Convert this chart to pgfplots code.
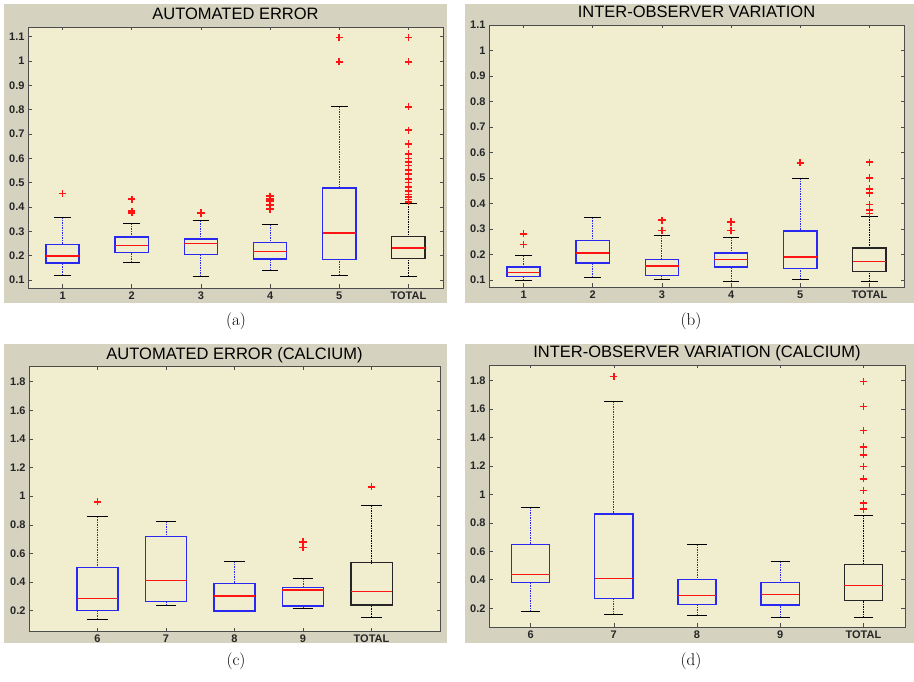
\documentclass[border=0pt]{standalone}
\usepackage{pgfplots}
\pgfplotsset{compat=1.18}
\usepgfplotslibrary{statistics}
\usepackage{fontspec}
\newfontfamily\msans{Liberation Sans}
\definecolor{figbg}{RGB}{213,211,192}
\definecolor{axbg}{RGB}{240,238,207}
\definecolor{mblue}{RGB}{40,40,240}
\definecolor{mred}{RGB}{255,20,20}
\pgfplotsset{
  boxplot/draw/lower whisker/.code={%
    \draw[/pgfplots/boxplot/every whisker/.try]
      (boxplot box cs:\pgfplotsboxplotvalue{lower whisker},0.5) --
      (boxplot box cs:\pgfplotsboxplotvalue{lower quartile},0.5);
    \draw[black, solid, line width=1pt]
      (boxplot whisker cs:\pgfplotsboxplotvalue{lower whisker},0) --
      (boxplot whisker cs:\pgfplotsboxplotvalue{lower whisker},1);
  },
  boxplot/draw/upper whisker/.code={%
    \draw[/pgfplots/boxplot/every whisker/.try]
      (boxplot box cs:\pgfplotsboxplotvalue{upper whisker},0.5) --
      (boxplot box cs:\pgfplotsboxplotvalue{upper quartile},0.5);
    \draw[black, solid, line width=1pt]
      (boxplot whisker cs:\pgfplotsboxplotvalue{upper whisker},0) --
      (boxplot whisker cs:\pgfplotsboxplotvalue{upper whisker},1);
  },
  boxplot/draw/median/.code={%
    \draw[mred, solid, line width=1.4pt]
      (boxplot box cs:\pgfplotsboxplotvalue{median},0) --
      (boxplot box cs:\pgfplotsboxplotvalue{median},1);
  },
  mstyle/.style={
    axis background/.style={fill=axbg},
    scale only axis, anchor=south west,
    boxplot/draw direction=y,
    axis line style={draw=black!70, line width=0.7pt},
    tick pos=both, tick align=inside, major tick length=3.5pt,
    tick style={black!70, line width=0.6pt},
    ticklabel style={font=\msans\bfseries\fontsize{11}{12}\selectfont, text=black!85},
    /pgf/number format/assume math mode=true,
    title style={font=\msans\fontsize{16.5}{18}\selectfont, at={(0.5,1)}, anchor=base, yshift=1pt},
    clip=false,
  },
  bb/.style={draw=mblue, line width=1pt, mark=+, mark size=3.6pt,
    mark options={color=mred, draw=mred, solid, line width=1.6pt},
    boxplot/every whisker/.style={draw=mblue, dash pattern=on 1.5pt off 1pt, line width=1pt},
    boxplot/every box/.style={draw=mblue, solid, line width=1.4pt}},
  bt/.style={draw=black, line width=1pt, mark=+, mark size=3.6pt,
    mark options={color=mred, draw=mred, solid, line width=1.6pt},
    boxplot/every whisker/.style={draw=black, dash pattern=on 1.5pt off 1pt, line width=1pt},
    boxplot/every box/.style={draw=black!85, solid, line width=1.1pt}},
}
\begin{document}
\begin{tikzpicture}
\path[use as bounding box, fill=white] (0pt,0pt) rectangle (914pt,681pt);
\fill[figbg] (4pt,378pt) rectangle (447pt,677pt);
\fill[figbg] (465pt,378pt) rectangle (914pt,677pt);
\fill[figbg] (4pt,38pt) rectangle (447pt,337pt);
\fill[figbg] (465pt,38pt) rectangle (914pt,337pt);

% (a)
\begin{axis}[mstyle, at={(28pt,393pt)}, width=415pt, height=261pt,
  xmin=0.5, xmax=6.5, ymin=0.067, ymax=1.14,
  xtick={1,2,3,4,5,6}, xticklabels={1,2,3,4,5,TOTAL},
  ytick={0.1,0.2,0.3,0.4,0.5,0.6,0.7,0.8,0.9,1,1.1},
  yticklabels={0.1,0.2,0.3,0.4,0.5,0.6,0.7,0.8,0.9,1,1.1},
  boxplot/box extend=0.48, boxplot/whisker extend=0.24,
  title={AUTOMATED ERROR}]
\addplot[bb, boxplot prepared={draw position=1, lower whisker=0.120, lower quartile=0.170, median=0.199, upper quartile=0.247, upper whisker=0.357}]
  table[row sep=\\, y index=0]{v\\0.455\\};
\addplot[bb, boxplot prepared={draw position=2, lower whisker=0.173, lower quartile=0.212, median=0.241, upper quartile=0.277, upper whisker=0.333}]
  table[row sep=\\, y index=0]{v\\0.432\\0.383\\0.376\\};
\addplot[bb, boxplot prepared={draw position=3, lower whisker=0.116, lower quartile=0.205, median=0.251, upper quartile=0.268, upper whisker=0.343}]
  table[row sep=\\, y index=0]{v\\0.375\\};
\addplot[bb, boxplot prepared={draw position=4, lower whisker=0.137, lower quartile=0.186, median=0.217, upper quartile=0.255, upper whisker=0.327}]
  table[row sep=\\, y index=0]{v\\0.444\\0.434\\0.424\\0.408\\0.392\\};
\addplot[bb, boxplot prepared={draw position=5, lower whisker=0.120, lower quartile=0.185, median=0.293, upper quartile=0.478, upper whisker=0.815}]
  table[row sep=\\, y index=0]{v\\1.096\\0.997\\};
\addplot[bt, boxplot prepared={draw position=6, lower whisker=0.116, lower quartile=0.190, median=0.231, upper quartile=0.280, upper whisker=0.413}]
  table[row sep=\\, y index=0]{v\\1.096\\0.997\\0.812\\0.716\\0.659\\0.618\\0.600\\0.585\\0.570\\0.552\\0.535\\0.515\\0.500\\0.482\\0.466\\0.452\\0.440\\0.430\\0.421\\};
\end{axis}

% (b)
\begin{axis}[mstyle, at={(489pt,394pt)}, width=415pt, height=262pt,
  xmin=0.5, xmax=6.5, ymin=0.072, ymax=1.1,
  xtick={1,2,3,4,5,6}, xticklabels={1,2,3,4,5,TOTAL},
  ytick={0.1,0.2,0.3,0.4,0.5,0.6,0.7,0.8,0.9,1,1.1},
  yticklabels={0.1,0.2,0.3,0.4,0.5,0.6,0.7,0.8,0.9,1,1.1},
  boxplot/box extend=0.48, boxplot/whisker extend=0.24,
  title={INTER-OBSERVER VARIATION}]
\addplot[bb, boxplot prepared={draw position=1, lower whisker=0.096, lower quartile=0.113, median=0.129, upper quartile=0.150, upper whisker=0.194}]
  table[row sep=\\, y index=0]{v\\0.281\\0.238\\};
\addplot[bb, boxplot prepared={draw position=2, lower whisker=0.110, lower quartile=0.166, median=0.205, upper quartile=0.255, upper whisker=0.343}]
  coordinates {};
\addplot[bb, boxplot prepared={draw position=3, lower whisker=0.100, lower quartile=0.118, median=0.155, upper quartile=0.181, upper whisker=0.276}]
  table[row sep=\\, y index=0]{v\\0.334\\0.294\\};
\addplot[bb, boxplot prepared={draw position=4, lower whisker=0.093, lower quartile=0.150, median=0.179, upper quartile=0.205, upper whisker=0.268}]
  table[row sep=\\, y index=0]{v\\0.327\\0.294\\};
\addplot[bb, boxplot prepared={draw position=5, lower whisker=0.103, lower quartile=0.145, median=0.190, upper quartile=0.292, upper whisker=0.498}]
  table[row sep=\\, y index=0]{v\\0.559\\};
\addplot[bt, boxplot prepared={draw position=6, lower whisker=0.093, lower quartile=0.134, median=0.171, upper quartile=0.225, upper whisker=0.348}]
  table[row sep=\\, y index=0]{v\\0.562\\0.500\\0.457\\0.441\\0.395\\0.373\\0.360\\};
\end{axis}

% (c)
\begin{axis}[mstyle, at={(29pt,50pt)}, width=411pt, height=265pt,
  xmin=0, xmax=6, ymin=0.058, ymax=1.91,
  xtick={1,2,3,4,5}, xticklabels={6,7,8,9,TOTAL},
  ytick={0.2,0.4,0.6,0.8,1,1.2,1.4,1.6,1.8},
  yticklabels={0.2,0.4,0.6,0.8,1,1.2,1.4,1.6,1.8},
  boxplot/box extend=0.6, boxplot/whisker extend=0.3,
  title={AUTOMATED ERROR (CALCIUM)}]
\addplot[bb, boxplot prepared={draw position=1, lower whisker=0.139, lower quartile=0.200, median=0.286, upper quartile=0.500, upper whisker=0.857}]
  table[row sep=\\, y index=0]{v\\0.961\\};
\addplot[bb, boxplot prepared={draw position=2, lower whisker=0.233, lower quartile=0.263, median=0.410, upper quartile=0.717, upper whisker=0.826}]
  coordinates {};
\addplot[bb, boxplot prepared={draw position=3, lower whisker=0.198, lower quartile=0.198, median=0.302, upper quartile=0.391, upper whisker=0.547}]
  coordinates {};
\addplot[bb, boxplot prepared={draw position=4, lower whisker=0.214, lower quartile=0.233, median=0.344, upper quartile=0.363, upper whisker=0.426}]
  table[row sep=\\, y index=0]{v\\0.682\\0.642\\};
\addplot[bt, boxplot prepared={draw position=5, lower whisker=0.153, lower quartile=0.240, median=0.333, upper quartile=0.535, upper whisker=0.938}]
  table[row sep=\\, y index=0]{v\\1.066\\};
\end{axis}

% (d)
\begin{axis}[mstyle, at={(489pt,54pt)}, width=416pt, height=262pt,
  xmin=0.5, xmax=5.5, ymin=0.068, ymax=1.91,
  xtick={1,2,3,4,5}, xticklabels={6,7,8,9,TOTAL},
  ytick={0.2,0.4,0.6,0.8,1,1.2,1.4,1.6,1.8},
  yticklabels={0.2,0.4,0.6,0.8,1,1.2,1.4,1.6,1.8},
  boxplot/box extend=0.46, boxplot/whisker extend=0.23,
  title={INTER-OBSERVER VARIATION (CALCIUM)}]
\addplot[bb, boxplot prepared={draw position=1, lower whisker=0.174, lower quartile=0.381, median=0.435, upper quartile=0.650, upper whisker=0.911}]
  coordinates {};
\addplot[bb, boxplot prepared={draw position=2, lower whisker=0.153, lower quartile=0.268, median=0.411, upper quartile=0.862, upper whisker=1.655}]
  table[row sep=\\, y index=0]{v\\1.830\\};
\addplot[bb, boxplot prepared={draw position=3, lower whisker=0.146, lower quartile=0.228, median=0.291, upper quartile=0.400, upper whisker=0.650}]
  coordinates {};
\addplot[bb, boxplot prepared={draw position=4, lower whisker=0.134, lower quartile=0.223, median=0.296, upper quartile=0.381, upper whisker=0.526}]
  coordinates {};
\addplot[bt, boxplot prepared={draw position=5, lower whisker=0.134, lower quartile=0.256, median=0.360, upper quartile=0.510, upper whisker=0.852}]
  table[row sep=\\, y index=0]{v\\1.795\\1.619\\1.450\\1.333\\1.279\\1.197\\1.110\\1.028\\0.939\\0.897\\};
\end{axis}

\node[font=\fontsize{17}{20}\selectfont] at (236pt,360pt) {(a)};
\node[font=\fontsize{17}{20}\selectfont] at (691pt,360pt) {(b)};
\node[font=\fontsize{17}{20}\selectfont] at (236pt,20pt) {(c)};
\node[font=\fontsize{17}{20}\selectfont] at (691pt,20pt) {(d)};
\end{tikzpicture}
\end{document}
